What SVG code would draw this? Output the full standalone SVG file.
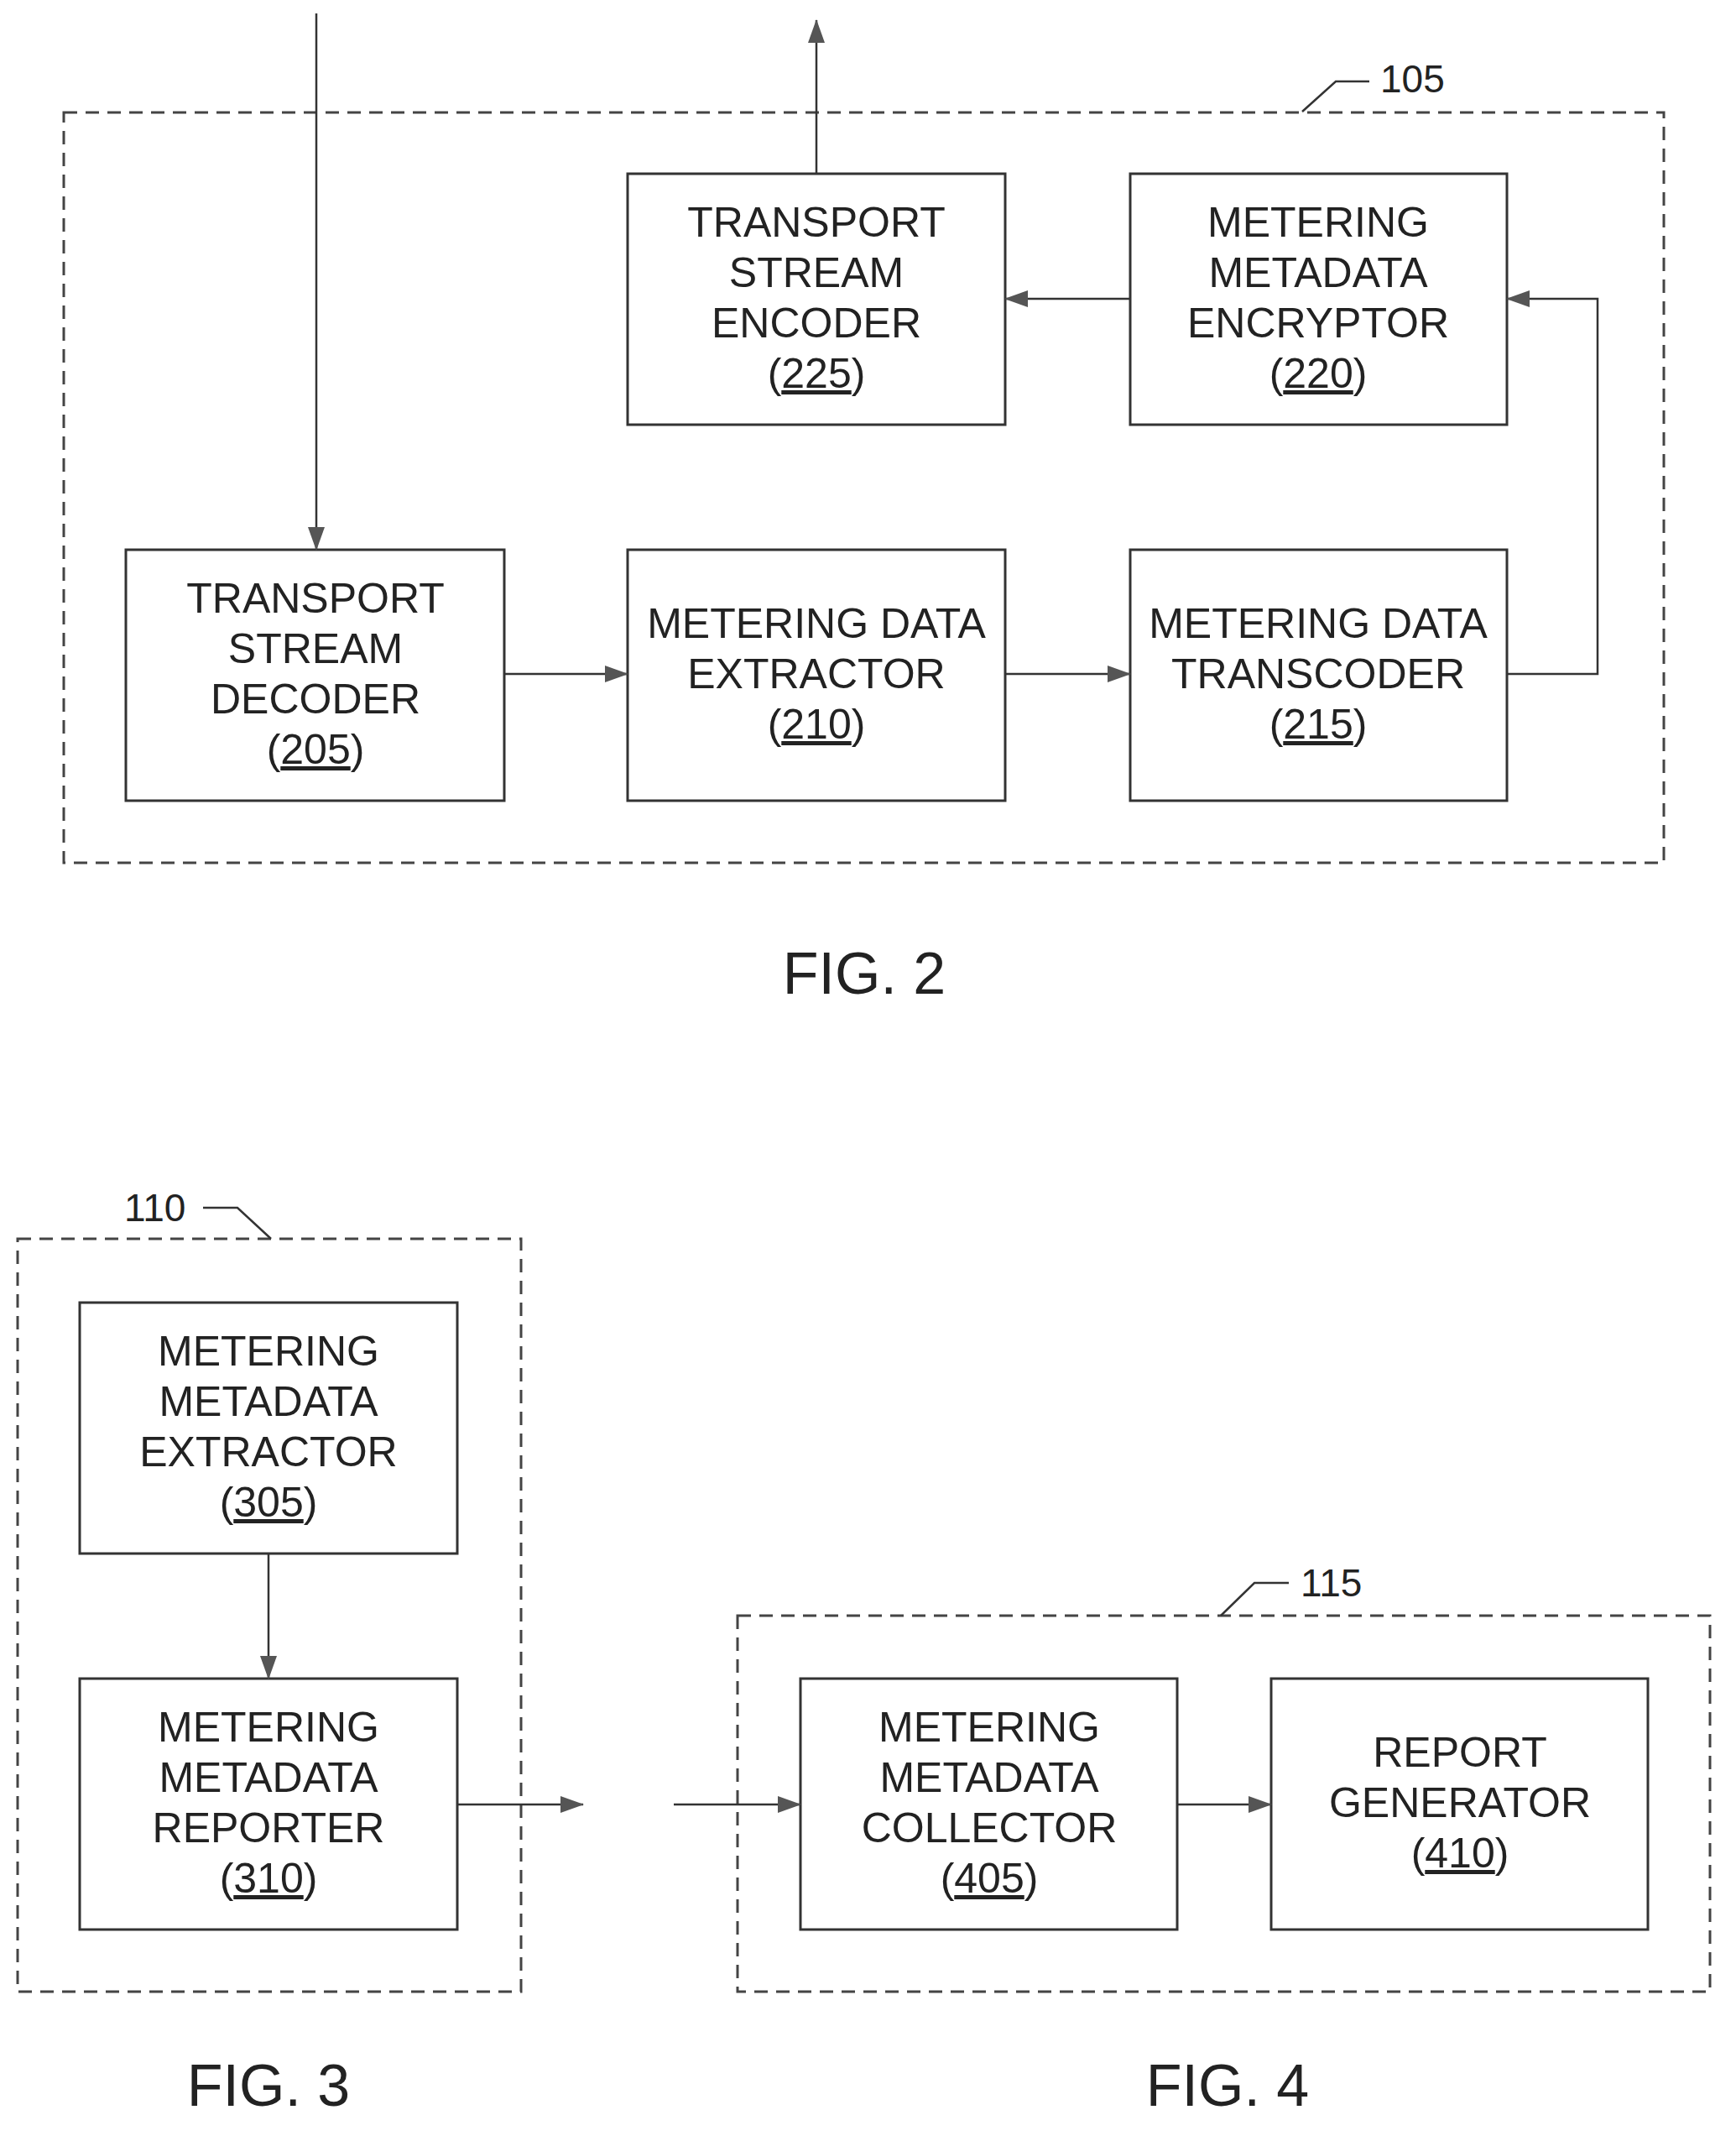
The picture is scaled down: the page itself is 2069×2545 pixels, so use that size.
<svg xmlns="http://www.w3.org/2000/svg" width="2069" height="2545" viewBox="0 0 2069 2545">
<style>
.box{fill:none;stroke:#333;stroke-width:3}
.dash{fill:none;stroke:#444;stroke-width:3;stroke-dasharray:16 10}
.ln{fill:none;stroke:#333;stroke-width:2.5}
text{font-family:"Liberation Sans",Arial,sans-serif;font-size:50px;fill:#222;text-anchor:middle}
.lbl{font-size:46px;text-anchor:start}
.fig{font-size:70px}
</style>
<defs>
<marker id="ah" markerWidth="28" markerHeight="20" refX="27" refY="10" orient="auto" markerUnits="userSpaceOnUse" viewBox="0 0 28 20"><path d="M0,0 L28,10 L0,20 Z" fill="#555"/></marker>
</defs>
<rect width="2069" height="2545" fill="#fff"/>
<g id="containers">
<rect class="dash" x="76" y="134" width="1907" height="894"/>
<rect class="dash" x="21" y="1476" width="600" height="897"/>
<rect class="dash" x="879" y="1925" width="1159" height="448"/>
<polyline class="ln" points="1552,133 1592,97 1632,97"/>
<text class="lbl" x="1645" y="110">105</text>
<polyline class="ln" points="242,1439 283,1439 323,1476"/>
<text class="lbl" x="148" y="1455">110</text>
<polyline class="ln" points="1455,1925 1495,1886 1536,1886"/>
<text class="lbl" x="1550" y="1902">115</text>
<text class="fig" x="1030" y="1184">FIG. 2</text>
<text class="fig" x="320" y="2509">FIG. 3</text>
<text class="fig" x="1463" y="2509">FIG. 4</text>
</g>
<g id="n225"><rect class="box" x="748" y="207" width="450" height="299"/>
<text x="973" y="282">TRANSPORT</text><text x="973" y="342">STREAM</text><text x="973" y="402">ENCODER</text><text x="973" y="462">(<tspan text-decoration="underline">225</tspan>)</text></g>
<g id="n220"><rect class="box" x="1347" y="207" width="449" height="299"/>
<text x="1571" y="282">METERING</text><text x="1571" y="342">METADATA</text><text x="1571" y="402">ENCRYPTOR</text><text x="1571" y="462">(<tspan text-decoration="underline">220</tspan>)</text></g>
<g id="n205"><rect class="box" x="150" y="655" width="451" height="299"/>
<text x="376" y="730">TRANSPORT</text><text x="376" y="790">STREAM</text><text x="376" y="850">DECODER</text><text x="376" y="910">(<tspan text-decoration="underline">205</tspan>)</text></g>
<g id="n210"><rect class="box" x="748" y="655" width="450" height="299"/>
<text x="973" y="760">METERING DATA</text><text x="973" y="820">EXTRACTOR</text><text x="973" y="880">(<tspan text-decoration="underline">210</tspan>)</text></g>
<g id="n215"><rect class="box" x="1347" y="655" width="449" height="299"/>
<text x="1571" y="760">METERING DATA</text><text x="1571" y="820">TRANSCODER</text><text x="1571" y="880">(<tspan text-decoration="underline">215</tspan>)</text></g>
<g id="n305"><rect class="box" x="95" y="1552" width="450" height="299"/>
<text x="320" y="1627">METERING</text><text x="320" y="1687">METADATA</text><text x="320" y="1747">EXTRACTOR</text><text x="320" y="1807">(<tspan text-decoration="underline">305</tspan>)</text></g>
<g id="n310"><rect class="box" x="95" y="2000" width="450" height="299"/>
<text x="320" y="2075">METERING</text><text x="320" y="2135">METADATA</text><text x="320" y="2195">REPORTER</text><text x="320" y="2255">(<tspan text-decoration="underline">310</tspan>)</text></g>
<g id="n405"><rect class="box" x="954" y="2000" width="449" height="299"/>
<text x="1179" y="2075">METERING</text><text x="1179" y="2135">METADATA</text><text x="1179" y="2195">COLLECTOR</text><text x="1179" y="2255">(<tspan text-decoration="underline">405</tspan>)</text></g>
<g id="n410"><rect class="box" x="1515" y="2000" width="449" height="299"/>
<text x="1740" y="2105">REPORT</text><text x="1740" y="2165">GENERATOR</text><text x="1740" y="2225">(<tspan text-decoration="underline">410</tspan>)</text></g>
<g id="connectors">
<line class="ln" x1="377" y1="16" x2="377" y2="655" marker-end="url(#ah)"/>
<line class="ln" x1="973" y1="207" x2="973" y2="24" marker-end="url(#ah)"/>
<line class="ln" x1="1347" y1="356" x2="1198" y2="356" marker-end="url(#ah)"/>
<polyline class="ln" points="1796,803 1904,803 1904,356 1796,356" marker-end="url(#ah)"/>
<line class="ln" x1="601" y1="803" x2="748" y2="803" marker-end="url(#ah)"/>
<line class="ln" x1="1198" y1="803" x2="1347" y2="803" marker-end="url(#ah)"/>
<line class="ln" x1="320" y1="1851" x2="320" y2="2000" marker-end="url(#ah)"/>
<line class="ln" x1="545" y1="2150" x2="695" y2="2150" marker-end="url(#ah)"/>
<line class="ln" x1="803" y1="2150" x2="954" y2="2150" marker-end="url(#ah)"/>
<line class="ln" x1="1403" y1="2150" x2="1515" y2="2150" marker-end="url(#ah)"/>
</g>
</svg>
